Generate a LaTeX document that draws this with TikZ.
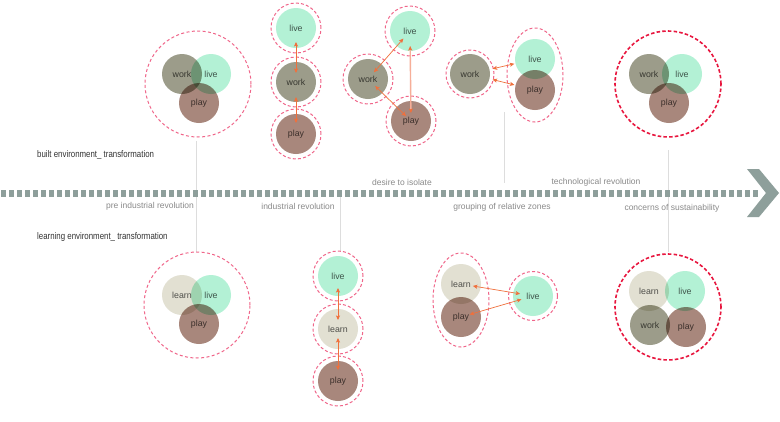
\documentclass[tikz,border=0pt]{standalone}
\usepackage{fontspec}
\setmainfont{Liberation Sans}
\newfontfamily\condfont[FakeStretch=0.82]{Liberation Sans}
\usetikzlibrary{arrows.meta}
\definecolor{livec}{HTML}{B3F1D5}
\definecolor{workc}{HTML}{9C9C8A}
\definecolor{playc}{HTML}{A8877C}
\definecolor{learnc}{HTML}{E2E0D2}
\definecolor{ringpink}{HTML}{F0668A}
\definecolor{ringred}{HTML}{E8173F}
\definecolor{arrowc}{HTML}{F0703C}
\definecolor{arrowlight}{HTML}{F6AE98}
\definecolor{vlinec}{HTML}{DDDDDD}
\definecolor{tlc}{HTML}{8E9F9B}
\definecolor{labgray}{HTML}{8A8A8A}
\definecolor{headgray}{HTML}{333333}
\definecolor{txtgray}{HTML}{5A5A5A}
\tikzset{
  bub/.style={circle, minimum size=40pt, inner sep=0pt, fill=#1, blend mode=multiply, text=txtgray, font=\fontsize{8.8}{10}\selectfont},
  ring/.style={circle, minimum size=50pt, inner sep=0pt, draw=ringpink, line width=1pt, dash pattern=on 3pt off 2.2pt},
  bigring/.style={circle, minimum size=106pt, inner sep=0pt, draw=ringpink, line width=1pt, dash pattern=on 3pt off 2.4pt},
  redring/.style={circle, minimum size=106pt, inner sep=0pt, draw=ringred, line width=1.6pt, dash pattern=on 3.5pt off 2.2pt},
  ellring/.style={draw=ringpink, line width=1pt, dash pattern=on 3pt off 2.2pt},
  link/.style={draw=arrowc, line width=0.7pt, {Stealth[length=4.5pt,width=4pt,inset=1pt]}-{Stealth[length=4.5pt,width=4pt,inset=1pt]}},
  linklight/.style={draw=arrowlight, line width=1.4pt, {Stealth[length=4.5pt,width=4pt,inset=1pt,color=arrowc]}-{Stealth[length=4.5pt,width=4pt,inset=1pt,color=arrowc]}},
  vline/.style={draw=vlinec, line width=0.5pt},
  head/.style={anchor=west, inner sep=0pt, text=headgray, font=\condfont\fontsize{9.6}{11}\selectfont},
  lab/.style={inner sep=0pt, text=labgray, font=\fontsize{8.5}{10}\selectfont},
}
\begin{document}
\begin{tikzpicture}[x=1pt,y=-1pt]
\useasboundingbox[fill=white] (0,0) rectangle (780,421);

% vertical guide lines
\draw[vline] (196,141) -- (196,252);
\draw[vline] (340,197) -- (340,251);
\draw[vline] (504,112) -- (504,183);
\draw[vline] (668,150) -- (668,252);

% timeline
\draw[tlc, line width=7pt, dash pattern=on 5pt off 3pt] (1,193) -- (758,193);
\fill[tlc] (747,169) -- (759,169) -- (779,193) -- (759,217) -- (747,217) -- (766,193) -- cycle;

% texts
\node[head] (h1) at (37,155) {built environment\_ transformation};
\node[head] (h2) at (37,237) {learning environment\_ transformation};
\node[lab] (l1) at (150,206) {pre industrial revolution};
\node[lab] (l2) at (298,206) {industrial revolution};
\node[lab] (l3) at (402,182) {desire to isolate};
\node[lab] (l4) at (596,182) {technological revolution};
\node[lab] (l5) at (502,207) {grouping of relative zones};
\node[lab] (l6) at (672,208) {concerns of sustainability};

% ===== top row =====
% group 1
\node[bigring] (r1) at (198,84) {};
\node[bub=workc] (w1) at (182,74) {work};
\node[bub=livec] (v1) at (211,74) {live};
\node[bub=playc] (p1) at (199,103) {play};

% group 2
\node[ring] (rv2) at (296,28) {};
\node[ring] (rw2) at (296,82) {};
\node[ring] (rp2) at (296,134) {};
\node[bub=livec] (v2) at (296,28) {live};
\node[bub=workc] (w2) at (296,82) {work};
\node[bub=playc] (p2) at (296,134) {play};
\draw[link, shorten <=14pt, shorten >=9pt] (v2.center) -- (w2.center);
\draw[link, shorten <=15pt, shorten >=11pt] (w2.center) -- (p2.center);

% group 3
\node[ring] (rv3) at (410,31) {};
\node[ring] (rw3) at (368,79) {};
\node[ring] (rp3) at (411,121) {};
\node[bub=livec] (v3) at (410,31) {live};
\node[bub=workc] (w3) at (368,79) {work};
\node[bub=playc] (p3) at (411,121) {play};
\draw[link, shorten <=10pt, shorten >=9pt] (v3.center) -- (w3.center);
\draw[link, shorten <=10pt, shorten >=7pt] (w3.center) -- (p3.center);
\draw[linklight, shorten <=15pt, shorten >=8pt] (v3.center) -- (p3.center);

% group 4
\node[ring, minimum size=48pt] (rw4) at (470,74) {};
\draw[ellring] (535,75) ellipse (28pt and 47pt);
\node[bub=workc] (w4) at (470,74) {work};
\node[bub=livec] (v4) at (535,59) {live};
\node[bub=playc] (p4) at (535,90) {play};
\draw[link, shorten <=3pt, shorten >=1pt] (w4) -- (v4);
\draw[link, shorten <=3pt, shorten >=1pt] (w4) -- (p4);

% group 5
\node[redring] (r5) at (668,84) {};
\node[bub=workc] (w5) at (649,74) {work};
\node[bub=livec] (v5) at (682,74) {live};
\node[bub=playc] (p5) at (669,103) {play};

% ===== bottom row =====
% group 1
\node[bigring] (r6) at (197,305) {};
\node[bub=learnc] (e6) at (182,295) {learn};
\node[bub=livec] (v6) at (211,295) {live};
\node[bub=playc] (p6) at (199,324) {play};

% group 2
\node[ring] (rv7) at (338,276) {};
\node[ring] (re7) at (338,329) {};
\node[ring] (rp7) at (338,381) {};
\node[bub=livec] (v7) at (338,276) {live};
\node[bub=learnc] (e7) at (338,329) {learn};
\node[bub=playc] (p7) at (338,381) {play};
\draw[link, shorten <=12pt, shorten >=9pt] (v7.center) -- (e7.center);
\draw[link, shorten <=9pt, shorten >=11pt] (e7.center) -- (p7.center);

% group 3
\draw[ellring] (461,300) ellipse (28pt and 47pt);
\node[ring, minimum size=49pt] (rv8) at (533,296) {};
\node[bub=learnc] (e8) at (461,284) {learn};
\node[bub=playc] (p8) at (461,317) {play};
\node[bub=livec] (v8) at (533,296) {live};
\draw[link, shorten <=12pt, shorten >=13pt] (e8.center) -- (v8.center);
\draw[link, shorten <=9pt, shorten >=12pt] (p8.center) -- (v8.center);

% group 5
\node[redring] (r9) at (668,307) {};
\node[bub=learnc] (e9) at (649,291) {learn};
\node[bub=livec] (v9) at (685,291) {live};
\node[bub=workc] (w9) at (650,325) {work};
\node[bub=playc] (p9) at (686,327) {play};
\end{tikzpicture}
\end{document}
